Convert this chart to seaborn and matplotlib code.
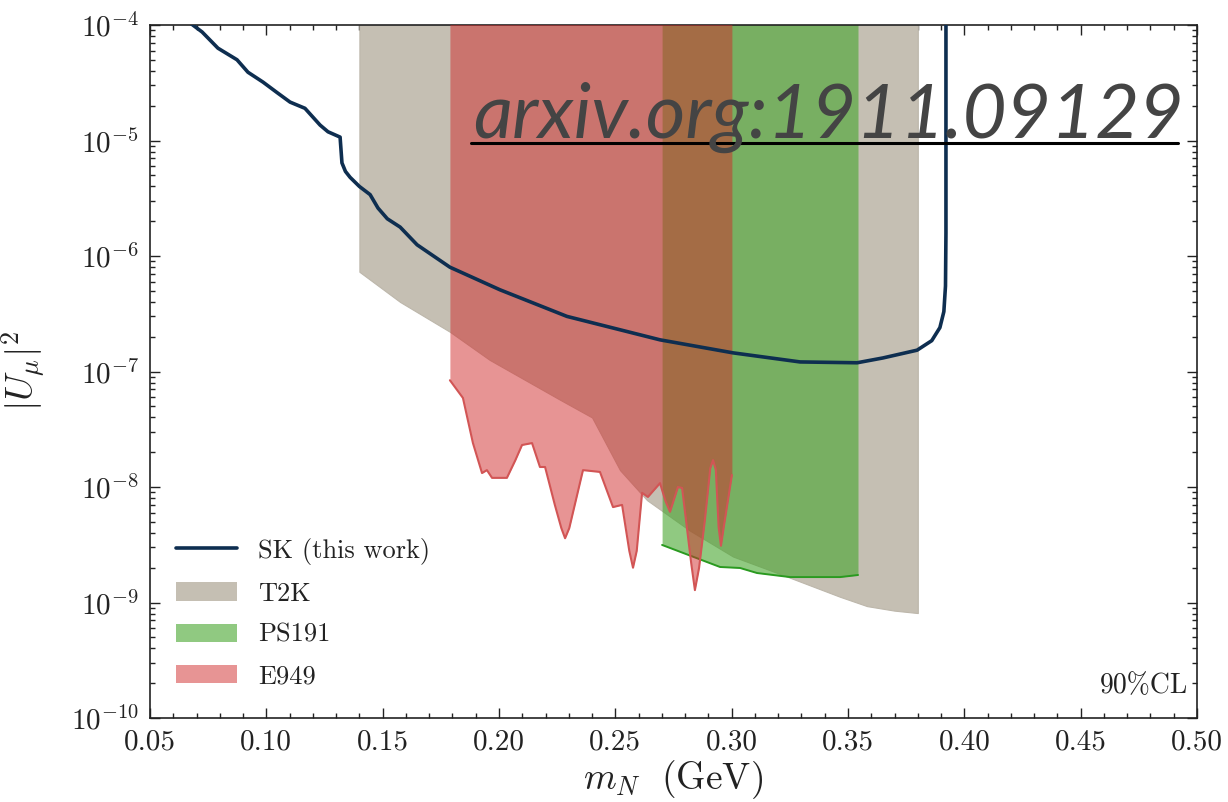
import numpy as np
import pandas as pd
import matplotlib
matplotlib.use("Agg")
import matplotlib.pyplot as plt
import matplotlib.ticker as mticker
from matplotlib.lines import Line2D
from matplotlib.patches import Patch
import seaborn as sns

# SK (this work) 90% CL limit on |U_mu|^2
sk_mass = [0.0670, 0.0724, 0.0792, 0.0874, 0.0921, 0.0986, 0.1046, 0.1102, 0.1166,
           0.1231, 0.1265, 0.1317, 0.1325, 0.1340, 0.1360, 0.1400, 0.1446, 0.1480,
           0.1520, 0.1575, 0.1648, 0.1789, 0.2004, 0.2292, 0.2692, 0.3006, 0.3294,
           0.3539, 0.3650, 0.3797, 0.3860, 0.3895, 0.3912, 0.3919, 0.3921, 0.3921]
sk_u2 = [1.05e-4, 8.7e-5, 6.3e-5, 5.0e-5, 3.9e-5, 3.2e-5, 2.6e-5, 2.15e-5, 1.9e-5,
         1.36e-5, 1.19e-5, 1.07e-5, 6.4e-6, 5.4e-6, 4.8e-6, 4.0e-6, 3.4e-6, 2.6e-6,
         2.1e-6, 1.78e-6, 1.25e-6, 8.0e-7, 5.1e-7, 3.0e-7, 1.88e-7, 1.45e-7, 1.21e-7,
         1.19e-7, 1.31e-7, 1.53e-7, 1.85e-7, 2.4e-7, 3.3e-7, 5.5e-7, 1.58e-6, 1.2e-4]

# T2K excluded region (lower boundary)
t2k_mass = [0.140, 0.1575, 0.179, 0.196, 0.2262, 0.240, 0.252, 0.2636, 0.282,
            0.3006, 0.322, 0.3466, 0.3582, 0.370, 0.380]
t2k_u2 = [7.3e-7, 4.0e-7, 2.2e-7, 1.26e-7, 5.7e-8, 4.0e-8, 1.4e-8, 7.7e-9, 4.2e-9,
          2.5e-9, 1.73e-9, 1.12e-9, 9.3e-10, 8.5e-10, 8.1e-10]

# PS191 excluded region (lower boundary)
ps191_mass = [0.2701, 0.2894, 0.2950, 0.3036, 0.3109, 0.3251, 0.3466, 0.3543]
ps191_u2 = [3.15e-9, 2.24e-9, 2.03e-9, 1.99e-9, 1.80e-9, 1.66e-9, 1.66e-9, 1.73e-9]

# E949 excluded region (lower boundary)
e949_mass = [0.1789, 0.1845, 0.1888, 0.1927, 0.1948, 0.1970, 0.2034, 0.2070, 0.2099,
             0.2142, 0.2176, 0.2198, 0.2240, 0.2268, 0.2284, 0.2302, 0.2361, 0.2434,
             0.2490, 0.2529, 0.2560, 0.2576, 0.2592, 0.2615, 0.2640, 0.2692, 0.2716,
             0.2735, 0.2752, 0.2769, 0.2787, 0.2826, 0.2842, 0.2860, 0.2885, 0.2908,
             0.2920, 0.2932, 0.2944, 0.2954, 0.2966, 0.3001]
e949_u2 = [8.4e-8, 5.9e-8, 2.4e-8, 1.32e-8, 1.40e-8, 1.20e-8, 1.20e-8, 1.7e-8, 2.31e-8,
           2.40e-8, 1.49e-8, 1.49e-8, 7.0e-9, 4.4e-9, 3.6e-9, 4.4e-9, 1.40e-8, 1.35e-8,
           6.7e-9, 7.0e-9, 2.8e-9, 2.0e-9, 2.8e-9, 8.9e-9, 8.2e-9, 1.08e-8, 7.5e-9,
           6.1e-9, 7.8e-9, 1.00e-8, 9.8e-9, 2.2e-9, 1.28e-9, 2.0e-9, 5.2e-9, 1.45e-8,
           1.71e-8, 1.4e-8, 4.5e-9, 3.1e-9, 4.5e-9, 1.27e-8]

x_ticks = [0.05, 0.10, 0.15, 0.20, 0.25, 0.30, 0.35, 0.40, 0.45, 0.50]
y_ticks = [1e-10, 1e-9, 1e-8, 1e-7, 1e-6, 1e-5, 1e-4]
y_min, y_max = 1e-10, 1e-4

sns.set_style("ticks")
plt.rcParams.update({
    "font.family": "serif",
    "font.serif": ["cmr10"],
    "mathtext.fontset": "cm",
    "axes.formatter.use_mathtext": True,
    "axes.unicode_minus": False,
})

c_sk = "#0e2e50"
c_t2k = "#c5bfb3"
c_ps = "#46a52d"
c_e949 = "#d02a2a"

fig = plt.figure(figsize=(12.28, 8.02), dpi=100)
ax = fig.add_axes([150 / 1228, 1 - 718 / 802, 1047 / 1228, 693 / 802])

ax.fill_between(t2k_mass, t2k_u2, y_max * 2, color=c_t2k, lw=0.8, edgecolor="#bdb7ab", zorder=1)
ax.fill_between(ps191_mass, ps191_u2, y_max * 2, color=c_ps, alpha=0.6, lw=0, zorder=2)
ax.plot(ps191_mass, ps191_u2, color="#2a9a20", lw=1.4, zorder=2.5)
ax.fill_between(e949_mass, e949_u2, y_max * 2, color=c_e949, alpha=0.5, lw=0, zorder=3)
ax.plot(e949_mass, e949_u2, color="#d25555", lw=1.5, zorder=3.5, solid_joinstyle="round")

sk_df = pd.DataFrame({"m": sk_mass, "u2": sk_u2})
sns.lineplot(data=sk_df, x="m", y="u2", sort=False, estimator=None, color=c_sk,
             lw=2.6, ax=ax, zorder=5)

ax.set_yscale("log")
ax.set_xlim(0.05, 0.50)
ax.set_ylim(y_min, y_max)
ax.set_xticks(x_ticks)
ax.xaxis.set_major_formatter(mticker.FormatStrFormatter("%.2f"))
ax.xaxis.set_minor_locator(mticker.MultipleLocator(0.01))
ax.yaxis.set_major_locator(mticker.FixedLocator(y_ticks))
ax.yaxis.set_major_formatter(mticker.LogFormatterSciNotation(base=10))
ax.yaxis.set_minor_locator(mticker.LogLocator(base=10, subs=np.arange(2, 10), numticks=20))
ax.yaxis.set_minor_formatter(mticker.NullFormatter())

ax.tick_params(which="both", direction="in", top=True, right=True, width=1.0,
               colors="#222222", labelcolor="#222222")
ax.tick_params(which="major", length=7, labelsize=21, pad=8)
ax.tick_params(which="minor", length=3.5)
for s in ax.spines.values():
    s.set_linewidth(1.2)
    s.set_color("#222222")

ax.set_xlabel(r"$m_N\ \ \mathrm{(GeV)}$", fontsize=27, color="#222222")
ax.set_ylabel(r"$|U_\mu|^2$", fontsize=27, color="#222222")
ax.xaxis.set_label_coords(0.5, -0.058)
ax.yaxis.set_label_coords(-0.098, 0.5)

handles = [
    Line2D([], [], color=c_sk, lw=2.6),
    Patch(facecolor=c_t2k, edgecolor="none"),
    Patch(facecolor=c_ps, alpha=0.6, edgecolor="none"),
    Patch(facecolor=c_e949, alpha=0.5, edgecolor="none"),
]
labels = ["SK (this work)", "T2K", "PS191", "E949"]
ax.legend(handles, labels, loc="lower left", frameon=False, fontsize=19,
          handlelength=2.3, handletextpad=0.8, labelspacing=0.66,
          bbox_to_anchor=(0.0, 0.005), borderaxespad=0.6, labelcolor="#222222")

ax.text(0.992, 0.036, "90%CL", transform=ax.transAxes, ha="right", va="baseline",
        fontsize=20, color="#222222")

# reference tag with underline
fig.text(473 / 1228, 1 - 138 / 802, "arxiv.org:1911.09129", fontsize=55,
         family="Lato", style="italic", color="#444444", ha="left", va="baseline",
         zorder=10)
fig.add_artist(Line2D([471 / 1228, 1178 / 1228], [1 - 143 / 802, 1 - 143 / 802],
                      color="black", lw=2.2, zorder=10))

fig.savefig("out.png", dpi=100)
